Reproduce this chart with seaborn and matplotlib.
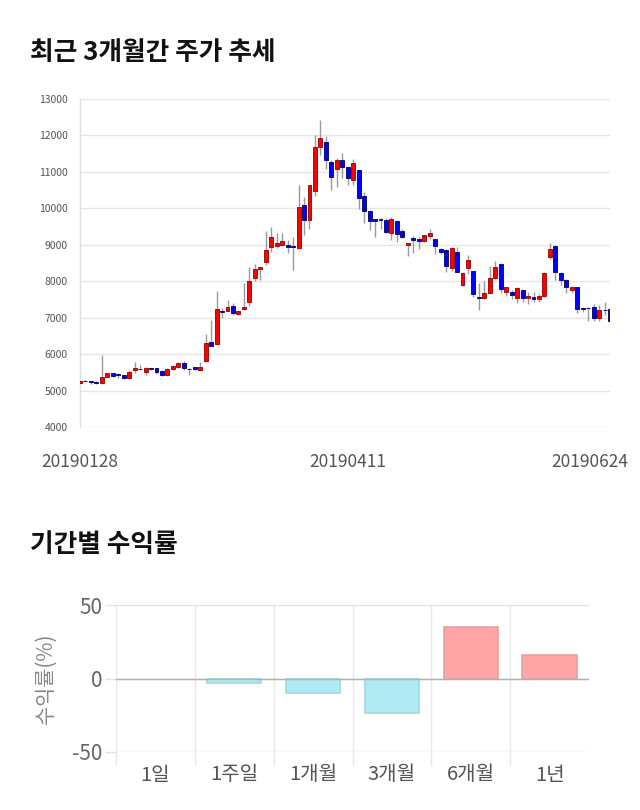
import numpy as np
import pandas as pd
import matplotlib
matplotlib.use("Agg")
import matplotlib.pyplot as plt
import matplotlib.transforms as mtransforms
from matplotlib.ticker import FixedLocator
import seaborn as sns

# ---------------- data ----------------
opens = [5200, 5270, 5260, 5240, 5200, 5380, 5470, 5460, 5430, 5340,
         5570, 5600, 5520, 5610, 5610, 5540, 5440, 5590, 5660, 5760,
         5600, 5640, 5570, 5820, 6320, 6280, 7180, 7190, 7330, 7110,
         7240, 7440, 8080, 8330, 8540, 8930, 8980, 9000, 9000, 8960,
         8900, 10090, 9680, 10480, 11680, 11830, 11280, 11070, 11330, 11130,
         10780, 11040, 10340, 9930, 9700, 9700, 9680, 9330, 9650, 9380,
         9000, 9180, 9150, 9090, 9240, 9150, 8880, 8860, 8370, 8790,
         7900, 8370, 8280, 7580, 7530, 7670, 8080, 8470, 7710, 7710,
         7530, 7760, 7540, 7580, 7520, 7600, 8670, 8970, 8220, 8030,
         7760, 7830, 7260, 7270, 7300, 6990, 7220, 7240]
highs = [5270, 5280, 5270, 5250, 5970, 5480, 5480, 5470, 5440, 5560,
         5780, 5700, 5640, 5630, 5620, 5560, 5620, 5700, 5770, 5800,
         5620, 5660, 5790, 6550, 6930, 7740, 7270, 7490, 7410, 7220,
         7940, 8400, 8470, 8400, 9390, 9480, 9330, 9330, 9130, 9220,
         10640, 10300, 10650, 12010, 12420, 11990, 11330, 11380, 11510, 11150,
         11350, 11060, 10460, 9960, 9710, 9730, 9740, 9770, 9680, 9440,
         9060, 9240, 9210, 9280, 9420, 9160, 8920, 8880, 8930, 8940,
         8230, 8720, 8290, 7940, 8000, 8420, 8550, 8500, 7850, 7760,
         7830, 7790, 7710, 7700, 7640, 8250, 9060, 8990, 8260, 8060,
         7860, 7850, 7300, 7300, 7370, 7350, 7430, 7250]
lows = [5190, 5250, 5190, 5170, 5170, 5370, 5370, 5350, 5330, 5330,
        5470, 5560, 5430, 5560, 5450, 5400, 5390, 5560, 5620, 5560,
        5430, 5560, 5560, 5800, 6210, 6260, 6980, 7170, 7070, 7080,
        7220, 7330, 8000, 8030, 8450, 8810, 8920, 8990, 8770, 8310,
        8890, 9270, 9420, 10340, 11460, 11070, 10490, 10580, 10820, 10640,
        10640, 9980, 9600, 9400, 9200, 9440, 9310, 9130, 9080, 9180,
        8690, 8770, 8880, 9070, 9170, 8750, 8740, 8240, 8270, 8240,
        7880, 8200, 7580, 7210, 7510, 7650, 8050, 7670, 7600, 7500,
        7390, 7420, 7380, 7420, 7420, 7560, 8600, 8030, 7900, 7670,
        7680, 7140, 7160, 6910, 6900, 6920, 7080, 6880]
closes = [5260, 5260, 5240, 5200, 5380, 5470, 5390, 5420, 5340, 5520,
          5630, 5590, 5630, 5580, 5500, 5430, 5590, 5680, 5760, 5610,
          5590, 5580, 5640, 6310, 6220, 7240, 7160, 7290, 7140, 7190,
          7290, 8010, 8330, 8390, 8860, 9200, 9060, 9090, 8950, 8950,
          10040, 9680, 10640, 11690, 11920, 11330, 10870, 11330, 11130, 10830,
          11240, 10280, 9930, 9640, 9660, 9680, 9360, 9700, 9290, 9200,
          9040, 9140, 9090, 9260, 9330, 8980, 8810, 8430, 8920, 8240,
          8220, 8580, 7640, 7540, 7690, 8080, 8400, 7800, 7830, 7620,
          7810, 7530, 7600, 7510, 7600, 8220, 8880, 8260, 8020, 7850,
          7830, 7240, 7250, 7260, 6980, 7210, 7210, 6900]
date_labels = ["20190128", "20190411", "20190624"]
price_ticks = [4000, 5000, 6000, 7000, 8000, 9000, 10000, 11000, 12000, 13000]

periods = ["1일", "1주일", "1개월", "3개월", "6개월", "1년"]
returns = [0.0, -3.4, -10.2, -23.4, 34.8, 15.9]
return_ticks = [-50, 0, 50]

# ---------------- style ----------------
sns.set_theme(style="white")
plt.rcParams["font.family"] = ["Noto Sans CJK KR", "DejaVu Sans"]
plt.rcParams["axes.unicode_minus"] = False

W, H = 640, 810
fig = plt.figure(figsize=(W / 100, H / 100), dpi=100)

# ---------------- candlestick chart ----------------
ax1 = fig.add_axes([80 / W, 1 - 427 / H, 530 / W, 328 / H])
o = np.array(opens, dtype=float)
h = np.array(highs, dtype=float)
l = np.array(lows, dtype=float)
c = np.array(closes, dtype=float)
idx = np.arange(len(o))
up = c > o
bottoms = np.minimum(o, c)
heights = np.abs(c - o)
face = np.where(up, "#FF0000", "#0000FF")
edge = np.where(up, "#9E1010", "#101070")

ax1.vlines(idx, l, h, color="#9a9a9a", linewidth=1.0, zorder=2)
ax1.bar(idx, heights, bottom=bottoms, width=0.72, color=face,
        edgecolor=edge, linewidth=0.7, zorder=3)

ax1.set_xlim(0, len(o) - 1)
ax1.set_ylim(price_ticks[0], price_ticks[-1])
ax1.set_yticks(price_ticks)
ax1.set_yticklabels([str(t) for t in price_ticks])
ax1.grid(axis="y", color="#E6E6E6", linewidth=1)
ax1.set_axisbelow(True)
for s in ["top", "right", "bottom"]:
    ax1.spines[s].set_visible(False)
ax1.spines["left"].set_color("#E0E0E0")
ax1.spines["left"].set_linewidth(1)
ax1.tick_params(axis="y", length=0, pad=9, labelsize=7.5, labelcolor="#555555")
n = len(o)
ax1.set_xticks([0, n // 2, n - 1])
ax1.set_xticklabels(date_labels)
ax1.tick_params(axis="x", length=0, pad=19, labelsize=12.5, labelcolor="#555555")
xt = ax1.get_xticklabels()
xt[-1].set_transform(xt[-1].get_transform() +
                     mtransforms.ScaledTranslation(-0.2, 0, fig.dpi_scale_trans))

# ---------------- returns chart ----------------
ax2 = fig.add_axes([116 / W, 1 - 752 / H, 473 / W, 147 / H])
df = pd.DataFrame({"period": periods, "ret": returns})
pal = ["#FFA5A5" if v > 0 else "#B0EAF2" for v in returns]
edges2 = ["#E8A0A0" if v > 0 else "#9FD9E2" for v in returns]
sns.barplot(data=df, x="period", y="ret", hue="period", palette=pal,
            legend=False, width=0.69, saturation=1, ax=ax2, zorder=3)
for p, ec, v in zip(ax2.patches, edges2, returns):
    p.set_edgecolor(ec)
    p.set_linewidth(1.2 if v != 0 else 0)

ax2.set_xlim(-0.5, len(periods) - 0.5)
ax2.set_ylim(return_ticks[0], return_ticks[-1])
ax2.set_yticks(return_ticks)
ax2.xaxis.set_minor_locator(FixedLocator(np.arange(len(periods)) - 0.5))
ax2.grid(axis="y", which="major", color="#E3E3E3", linewidth=1)
ax2.grid(axis="x", which="minor", color="#E8E8E8", linewidth=1)
ax2.grid(axis="x", which="major", visible=False)
ax2.axhline(0, color="#B0B0B0", linewidth=1, zorder=4)
ax2.set_axisbelow(True)
for s in ["top", "right", "bottom", "left"]:
    ax2.spines[s].set_visible(False)
ax2.tick_params(axis="y", length=8, width=1, color="#E3E3E3", pad=2,
                labelsize=15, labelcolor="#666666", left=True)
ax2.tick_params(axis="x", which="major", length=0, pad=9,
                labelsize=14.5, labelcolor="#555555")
ax2.tick_params(axis="x", which="minor", length=10, width=1,
                color="#E8E8E8", bottom=True)
ax2.set_xlabel("")
ax2.set_ylabel("수익률(%)", fontsize=15, color="#888888")
ax2.yaxis.set_label_coords(-0.125, 0.5)

# ---------------- titles ----------------
fig.text(30 / W, 1 - 52 / H, "최근 3개월간 주가 추세", fontsize=18.5,
         fontweight="bold", color="#111111", va="center", ha="left")
fig.text(30 / W, 1 - 545 / H, "기간별 수익률", fontsize=18.5,
         fontweight="bold", color="#111111", va="center", ha="left")

fig.savefig("out.png", dpi=100)
